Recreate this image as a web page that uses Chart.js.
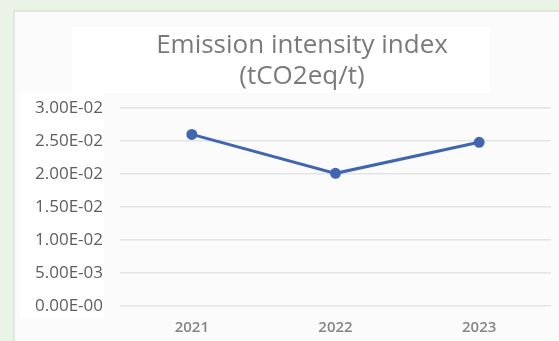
<!DOCTYPE html>
<html>
<head>
<meta charset="utf-8">
<script src="https://cdn.jsdelivr.net/npm/chart.js@4.4.1/dist/chart.umd.min.js"></script>
<style>
  html, body { margin: 0; padding: 0; background: #e9f3e6; }
  #wrap { width: 559px; height: 341px; position: relative; }
</style>
</head>
<body>
<div id="wrap"><canvas id="chart" width="559" height="341"></canvas></div>
<script>
// Emission intensity by year (tCO2eq per tonne)
const years = ['2021', '2022', '2023'];
const intensity = [0.0260, 0.0201, 0.0248];
const yTickValues = [0, 0.005, 0.01, 0.015, 0.02, 0.025, 0.03];
const yTickLabels = ['0.00E-00', '5.00E-03', '1.00E-02', '1.50E-02', '2.00E-02', '2.50E-02', '3.00E-02'];
const titleLines = ['Emission intensity index', '(tCO2eq/t)'];

// Page background, card panel and the title text
const backdrop = {
  id: 'backdrop',
  beforeDraw(chart) {
    const ctx = chart.ctx;
    ctx.save();
    ctx.fillStyle = '#e9f3e6';
    ctx.fillRect(0, 0, chart.width, chart.height);
    ctx.fillStyle = '#e3e5e2';
    ctx.fillRect(13, 10, chart.width - 13, chart.height - 10);
    ctx.fillStyle = '#fbfbfb';
    ctx.fillRect(15, 12, chart.width - 15, chart.height - 12);
    // lighter boxes behind the title and the value labels
    ctx.fillStyle = '#ffffff';
    ctx.fillRect(72, 27, 418, 66);
    ctx.fillRect(20, 93, 84, 226);
    ctx.restore();
  },
  afterDraw(chart) {
    const ctx = chart.ctx;
    ctx.save();
    ctx.fillStyle = '#7a7a7a';
    ctx.font = '26px "Open Sans"';
    ctx.textAlign = 'center';
    ctx.textBaseline = 'alphabetic';
    ctx.fillText(titleLines[0], 302, 53);
    ctx.fillText(titleLines[1], 302, 84);
    ctx.restore();
  }
};

new Chart(document.getElementById('chart'), {
  type: 'line',
  data: {
    labels: years,
    datasets: [{
      data: intensity,
      borderColor: '#4166b0',
      backgroundColor: '#4166b0',
      borderWidth: 3,
      pointRadius: 4,
      pointHoverRadius: 4,
      tension: 0,
      fill: false
    }]
  },
  options: {
    responsive: false,
    animation: false,
    devicePixelRatio: 1,
    layout: { padding: { left: 14, top: 108, right: 8, bottom: 0 } },
    plugins: {
      legend: { display: false },
      title: { display: false },
      tooltip: { enabled: false }
    },
    scales: {
      x: {
        offset: true,
        grid: { display: false, drawTicks: false },
        border: { display: false },
        ticks: {
          color: '#858585',
          padding: 13,
          font: { family: '"Open Sans"', size: 15, weight: '600' }
        },
        afterFit(scale) { scale.height = 35; }
      },
      y: {
        min: 0,
        max: 0.03,
        afterBuildTicks(scale) {
          scale.ticks = yTickValues.map(v => ({ value: v }));
        },
        grid: { color: '#e4e4e4', lineWidth: 1.5, drawTicks: false },
        border: { display: false },
        ticks: {
          color: '#5e5e5e',
          padding: 17,
          font: { family: '"Open Sans"', size: 17 },
          callback(value) {
            const i = yTickValues.findIndex(v => Math.abs(v - value) < 1e-9);
            return i >= 0 ? yTickLabels[i] : '';
          }
        },
        afterFit(scale) { scale.width = 106; }
      }
    }
  },
  plugins: [backdrop]
});
</script>
</body>
</html>
